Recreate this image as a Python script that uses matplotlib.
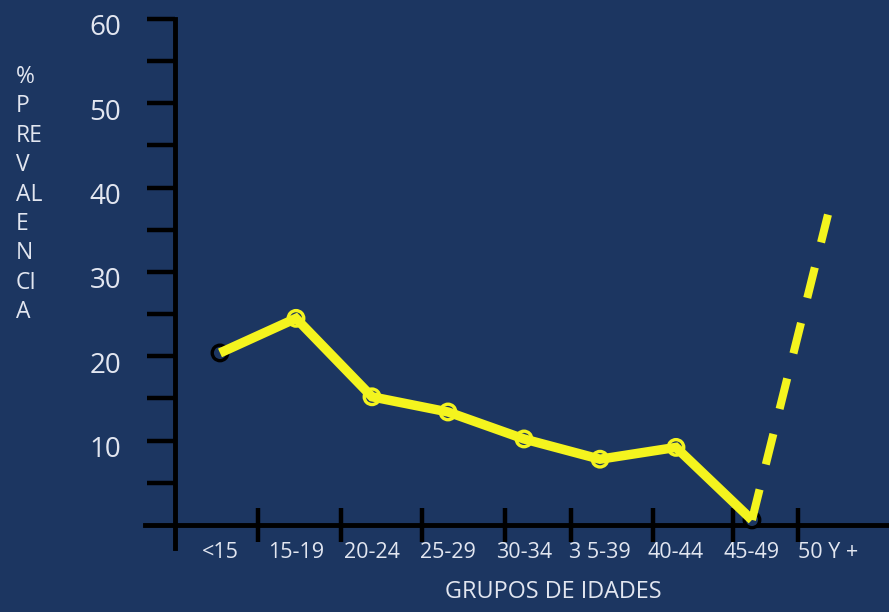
import numpy as np
import matplotlib.pyplot as plt
from matplotlib.transforms import ScaledTranslation

# data
age_groups = ['<15', '15-19', '20-24', '25-29', '30-34', '3 5-39', '40-44', '45-49', '50 Y +']
prevalence = [20.4, 24.5, 15.2, 13.4, 10.2, 7.8, 9.2, 0.6]   # <15 .. 45-49 (solid line)
prevalence_50plus = 36.8                                    # 50 Y + (dashed)
y_major = [10, 20, 30, 40, 50, 60]
y_minor = [5, 15, 25, 35, 45, 55]
ylabel_lines = ['%', 'P', 'RE', 'V', 'AL', 'E', 'N', 'CI', 'A']

BG = '#1c3661'
YELLOW = '#f4f41e'
TXT = '#e2e6f0'
plt.rcParams['font.family'] = ['Open Sans', 'DejaVu Sans']

fig = plt.figure(figsize=(8.89, 6.12), dpi=100, facecolor=BG)
ax = fig.add_axes([0.1631, 0.1046, 0.8369, 0.8709])
ax.set_facecolor(BG)

x = np.arange(len(age_groups))

# markers (under the line)
edge_cols = ['black'] + [YELLOW] * 6 + ['black']
ax.scatter(x[:8], prevalence, s=125, facecolors=BG, edgecolors=edge_cols,
           linewidths=2.4, zorder=2)
# solid line
ax.plot(x[:8], prevalence, color=YELLOW, lw=6.8, solid_joinstyle='miter',
        solid_capstyle='butt', zorder=3)
# dashed part to 50+
ax.plot([x[7], x[8]], [prevalence[-1], prevalence_50plus], color=YELLOW, lw=5.8,
        linestyle=(0, (3.9, 3.2)), dash_capstyle='butt', zorder=3)

ax.set_xlim(-0.987, 8.803)
ax.set_ylim(-2.727, 60.47)

# axes lines
for s in ['top', 'right']:
    ax.spines[s].set_visible(False)
ax.spines['left'].set_position(('data', -0.59))
ax.spines['bottom'].set_position(('data', 0))
ax.spines['left'].set_bounds(-2.727, 60)
for s in ['left', 'bottom']:
    ax.spines[s].set_color('black')
    ax.spines[s].set_linewidth(3.5)
    ax.spines[s].set_zorder(1)

# y ticks
ax.set_yticks(y_major)
ax.set_yticks(y_minor, minor=True)
ax.tick_params(axis='y', which='both', direction='out', length=20, width=3.2,
               color='black')
ax.tick_params(axis='y', which='major', labelsize=20, labelcolor=TXT, pad=19)
offset = ScaledTranslation(0, -0.06, fig.dpi_scale_trans)
for lab in ax.get_yticklabels():
    lab.set_transform(lab.get_transform() + offset)

# x ticks: labels on categories, marks between them
x_divs = [0.5, 1.59, 2.66, 3.75, 4.62, 5.70, 6.75, 7.61]
ax.set_xticks(x)
ax.set_xticklabels(age_groups)
ax.set_xticks(x_divs, minor=True)
ax.tick_params(axis='x', which='major', length=0, labelsize=15.5,
               labelcolor=TXT, pad=12)
ax.tick_params(axis='x', which='minor', direction='inout', length=24,
               width=3.2, color='black')

fig.text(553 / 889, 1 - 592 / 612, 'GRUPOS DE IDADES', color=TXT,
         fontsize=16.8, ha='center', va='center')
for i, s in enumerate(ylabel_lines):
    fig.text(16 / 889, 1 - (77 + 29.4 * i) / 612, s, color=TXT,
             fontsize=16.5, ha='left', va='center')

fig.savefig('out.png', dpi=100, facecolor=BG)
